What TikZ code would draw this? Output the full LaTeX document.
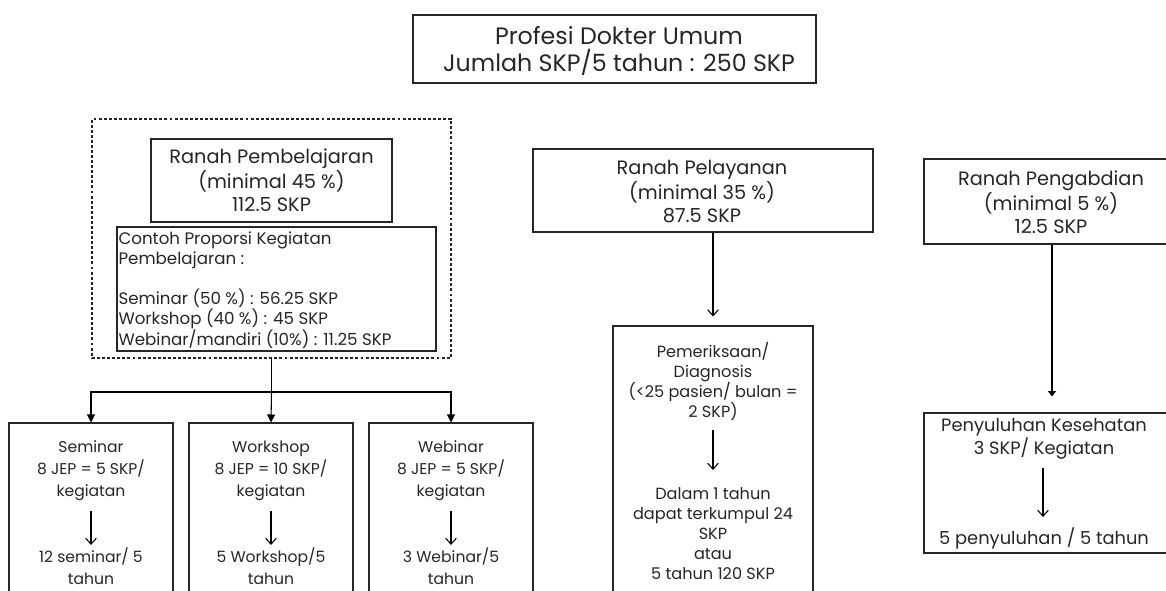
\documentclass[tikz,border=0pt]{standalone}
\usepackage{fontspec}
\setmainfont{Poppins}
\usetikzlibrary{arrows.meta,fit}
\newcommand{\ftitle}{\fontsize{17.8}{20.25}\selectfont}
\newcommand{\franah}{\fontsize{14.5}{17.25}\selectfont}
\newcommand{\fcontoh}{\fontsize{12.5}{15}\selectfont}
\newcommand{\fsem}{\fontsize{11.7}{16.5}\selectfont}
\newcommand{\fpem}{\fontsize{12.1}{15}\selectfont}
\newcommand{\fpeny}{\fontsize{13.4}{17}\selectfont}
\begin{document}
\begin{tikzpicture}[x=0.75pt,y=-0.75pt,line width=0.8pt,
  box/.style={draw=black!85,rectangle,inner sep=0pt},
  dbox/.style={draw=black!85,rectangle,inner sep=0pt,dash pattern=on 2.2pt off 1.6pt},
  txt/.style={align=center,inner sep=0pt,text=black!85},
  tip/.style={-{Triangle[length=6pt,width=6pt]}},
  smalltip/.style={-{Triangle[length=4pt,width=6pt]}},
  vtip/.style={-{Straight Barb[length=4.5pt,width=8pt]}}]
\useasboundingbox (0,0) rectangle (1166,590);
\clip (0,0) rectangle (1166,590);

% title
\node[box,fit={(413,15) (816,83)}] (title) {};
\node[txt,font=\ftitle] (titletxt) at (619,51) {Profesi Dokter Umum\\Jumlah SKP/5 tahun : 250 SKP};

% Ranah Pembelajaran
\node[dbox,fit={(92,119) (451,358)}] (dashed) {};
\node[box,fit={(151,139) (392,222)}] (pemb) {};
\node[txt,font=\franah] (pembtxt) at (271.5,180) {Ranah Pembelajaran\\(minimal 45 \%)\\112.5 SKP};
\node[box,fit={(117,227) (436,351)}] (contoh) {};
\node[txt,align=left,anchor=north west,font=\fcontoh] (contohtxt) at (118,231)
  {Contoh Proporsi Kegiatan\\Pembelajaran :\\[15pt]Seminar (50 \%) : 56.25 SKP\\Workshop (40 \%) : 45 SKP\\Webinar/mandiri (10\%) : 11.25 SKP};

% three activity boxes
\node[box,fit={(9,423) (173,600)}] (sem) {};
\node[box,fit={(189,423) (353,600)}] (work) {};
\node[box,fit={(369,423) (533,600)}] (web) {};
\coordinate (bus) at (271.5,392);
\draw (dashed.south) -- (bus);
\draw[tip] (bus) -- (work.north);
\draw[tip] (bus) -| (sem.north);
\draw[tip] (bus) -| (web.north);

\node[txt,font=\fsem] (semtop) at (91,471) {Seminar\\8 JEP = 5 SKP/\\kegiatan};
\node[txt,font=\fsem] (sembot) at (91,566.5) {12 seminar/ 5\\tahun};
\node[txt,font=\fsem] (worktop) at (271,471) {Workshop\\8 JEP = 10 SKP/\\kegiatan};
\node[txt,font=\fsem] (workbot) at (271,566.5) {5 Workshop/5\\tahun};
\node[txt,font=\fsem] (webtop) at (451,471) {Webinar\\8 JEP = 5 SKP/\\kegiatan};
\node[txt,font=\fsem] (webbot) at (451,566.5) {3 Webinar/5\\tahun};
\coordinate (s1a) at (91,511); \coordinate (s1b) at (91,545);
\coordinate (s2a) at (271,511); \coordinate (s2b) at (271,545);
\coordinate (s3a) at (451,511); \coordinate (s3b) at (451,545);
\draw[vtip] (s1a) -- (s1b);
\draw[vtip] (s2a) -- (s2b);
\draw[vtip] (s3a) -- (s3b);

% Ranah Pelayanan
\node[box,fit={(533,149) (873,232)}] (pel) {};
\node[txt,font=\franah] (peltxt) at (702,191.5) {Ranah Pelayanan\\(minimal 35 \%)\\87.5 SKP};
\node[box,fit={(613,326) (813,600)}] (pem) {};
\draw[vtip,shorten >=6.75pt] (pel.south -| pem.north) -- (pem.north);
\node[txt,font=\fpem] (pemtop) at (713,381.5) {Pemeriksaan/\\Diagnosis\\(<25 pasien/ bulan =\\2 SKP)};
\node[txt,font=\fpem] (pembot) at (713,534) {Dalam 1 tahun\\dapat terkumpul 24\\SKP\\atau\\5 tahun 120 SKP};
\coordinate (p1a) at (713,430); \coordinate (p1b) at (713,470);
\draw[vtip] (p1a) -- (p1b);

% Ranah Pengabdian
\node[box,fit={(924,159) (1172,244)}] (peng) {};
\node[txt,font=\franah] (pengtxt) at (1051,202) {Ranah Pengabdian\\(minimal 5 \%)\\12.5 SKP};
\node[box,fit={(924,413) (1172,553)}] (peny) {};
\draw[smalltip,shorten >=12pt] ([xshift=3pt]peng.south) -- ([xshift=3pt]peny.north);
\node[txt,font=\fpeny] (penytop) at (1044,438.5) {Penyuluhan Kesehatan\\3 SKP/ Kegiatan};
\node[txt,font=\fpeny] (penybot) at (1044,538) {5 penyuluhan / 5 tahun};
\coordinate (q1a) at (1043,468); \coordinate (q1b) at (1043,517);
\draw[vtip] (q1a) -- (q1b);
\end{tikzpicture}
\end{document}
